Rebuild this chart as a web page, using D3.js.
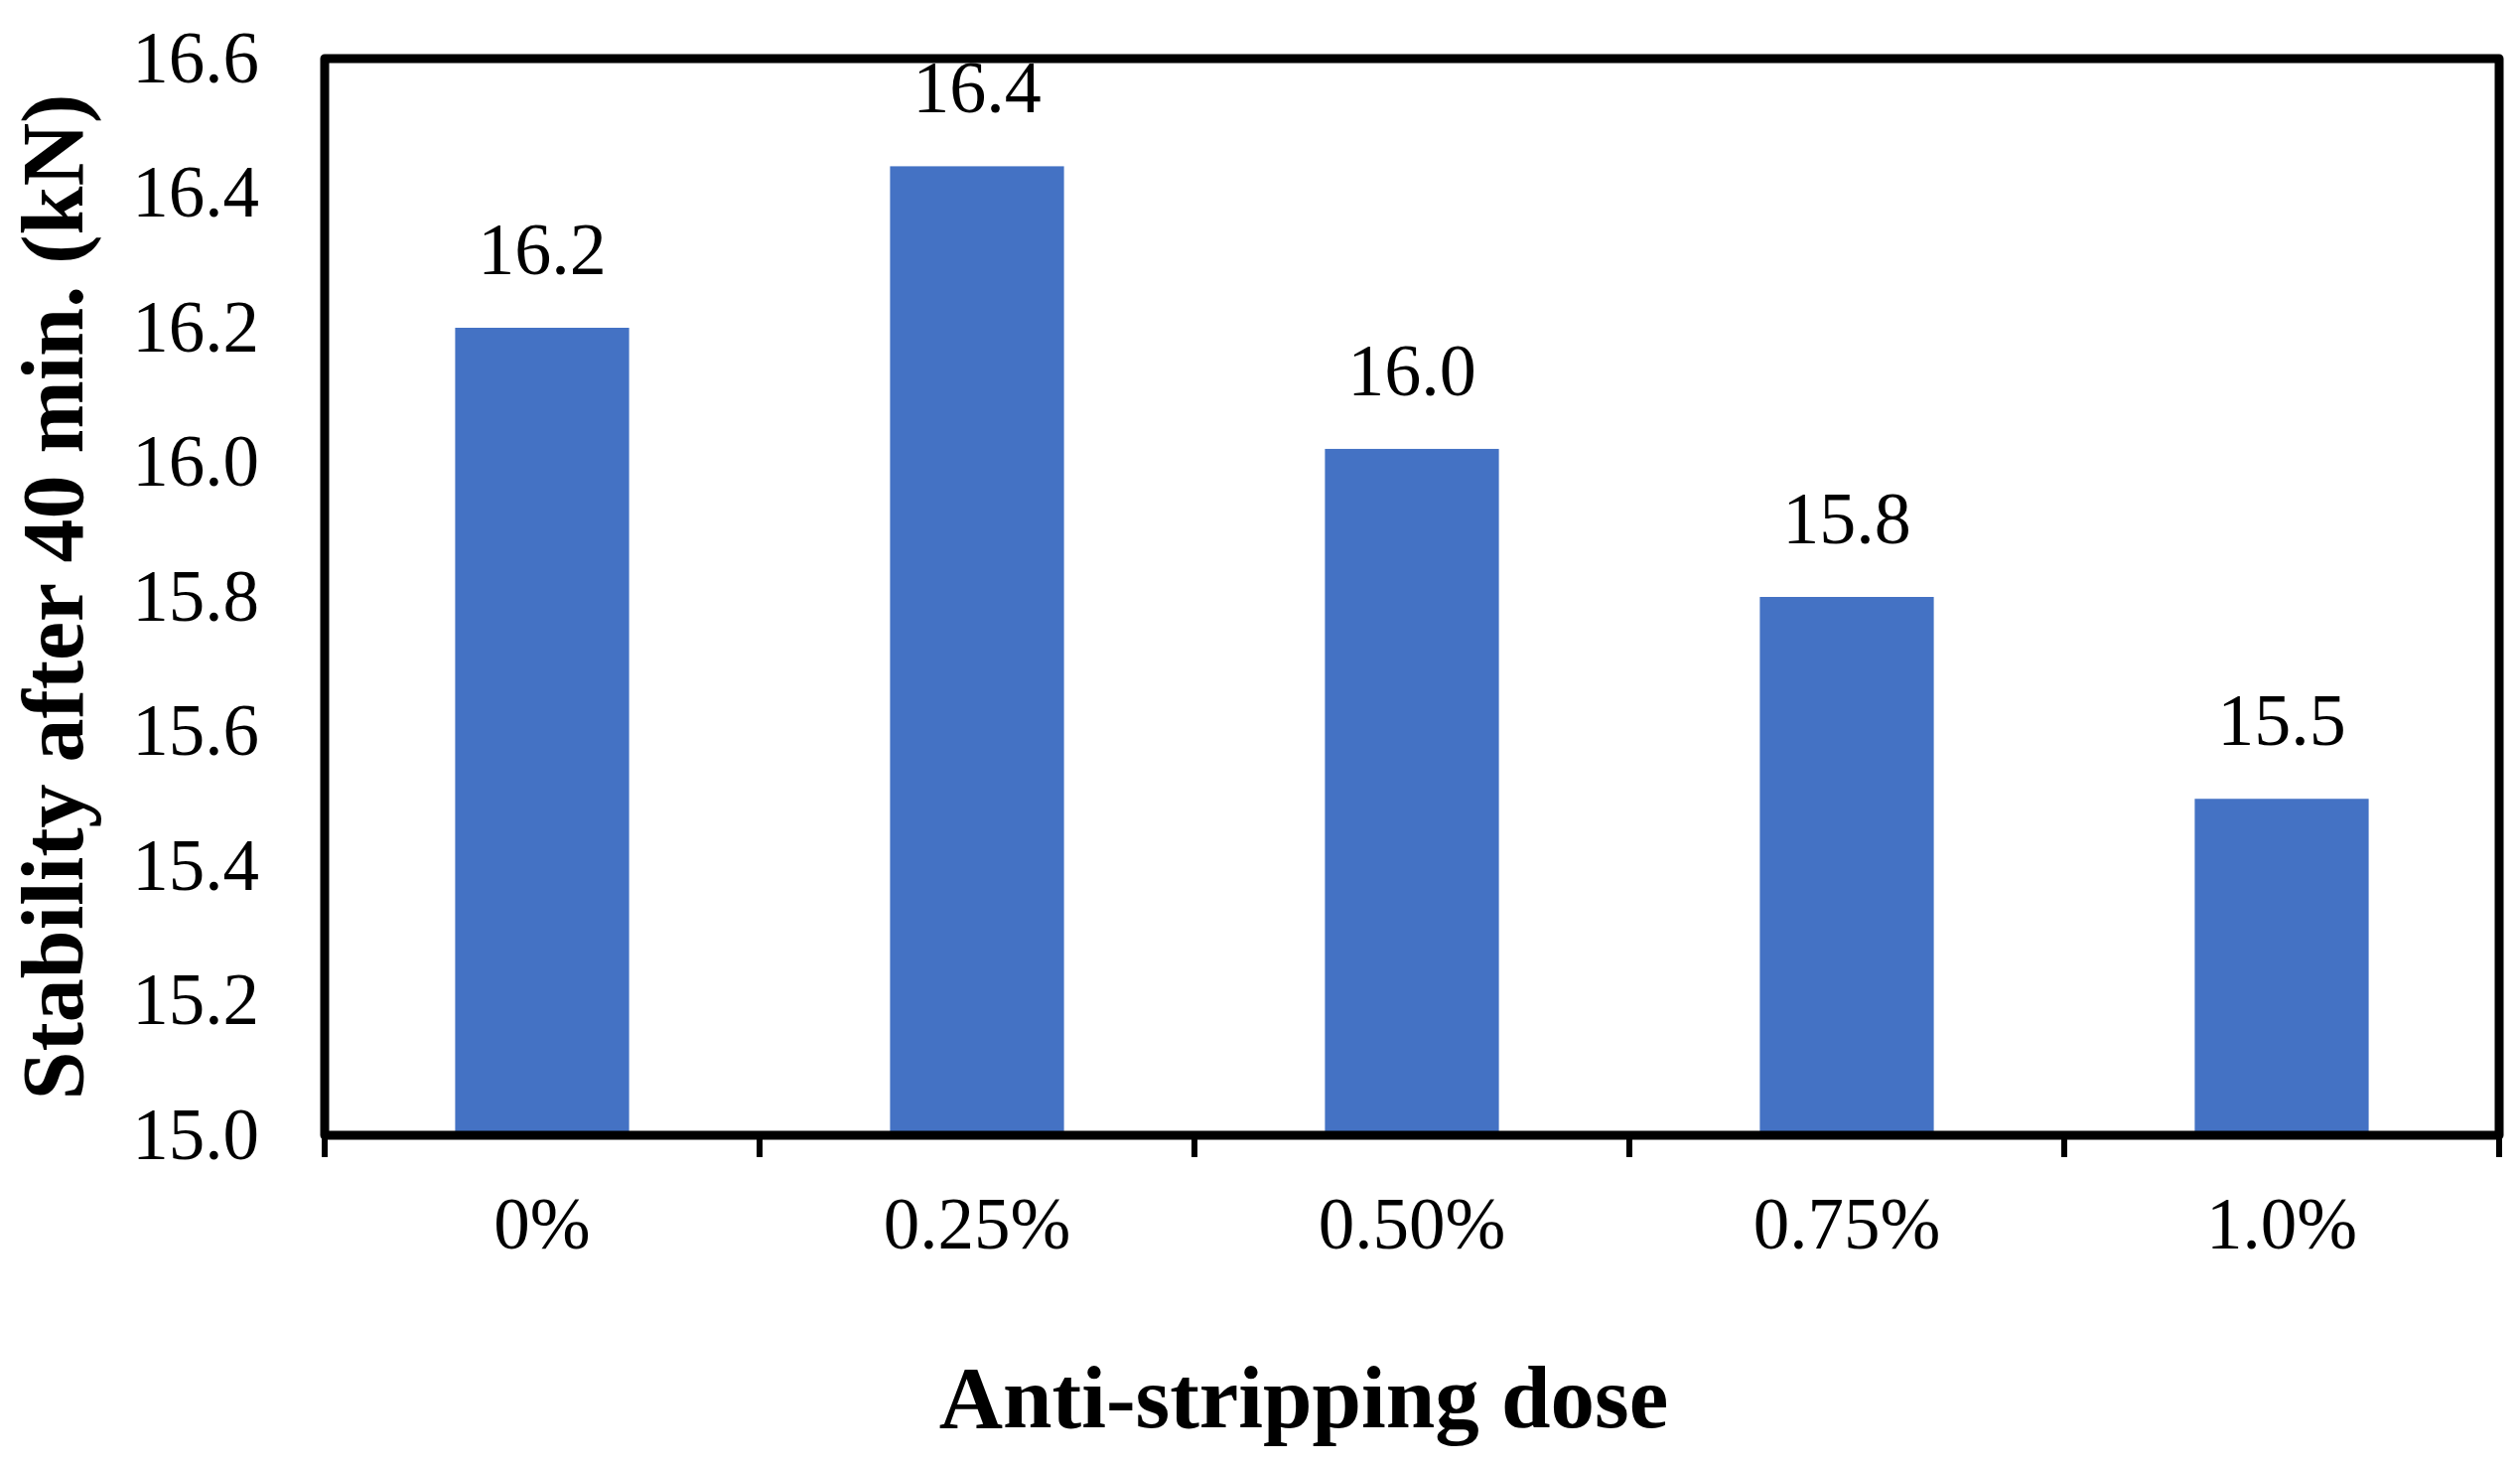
<!DOCTYPE html>
<html lang="en">
<head>
    <meta charset="UTF-8">
    <title>Stability after 40 min</title>
    <style>
        html,body {
            margin : 0px;
            padding: 0px;
            background: #fff;
        }
    </style>
    <script src="https://cdn.jsdelivr.net/npm/d3@7/dist/d3.min.js"></script>
</head>
<body>
<svg></svg>
<script>
    // values
    const doses     = ['0%', '0.25%', '0.50%', '0.75%', '1.0%']
    const stability = [16.20, 16.44, 16.02, 15.80, 15.50]
    const valueText = ['16.2', '16.4', '16.0', '15.8', '15.5']
    const yTicks    = [15.0, 15.2, 15.4, 15.6, 15.8, 16.0, 16.2, 16.4, 16.6]

    const _W = 2538
    const _H = 1479
    const m = {left: 327, right: 2517, top: 59, bottom: 1143}
    const serif = "'Liberation Serif', 'Times New Roman', serif"

    const svg = d3.select('svg')
        .attr('width', _W)
        .attr('height', _H)

    const x = d3.scaleBand()
        .domain(doses)
        .range([m.left, m.right])
        .paddingInner(0.6)
        .paddingOuter(0.3)

    const y = d3.scaleLinear()
        .domain([15.0, 16.6])
        .range([m.bottom, m.top])

    // bars
    svg.append('g').attr('class', 'bars')
        .selectAll('rect').data(stability)
        .enter().append('rect')
        .attr('x', (d, i) => x(doses[i]))
        .attr('width', x.bandwidth())
        .attr('y', d => y(d))
        .attr('height', d => y(15.0) - y(d))
        .attr('fill', '#4472C4')

    // value labels
    svg.append('g').attr('class', 'labels')
        .selectAll('text').data(stability)
        .enter().append('text')
        .attr('x', (d, i) => x(doses[i]) + x.bandwidth() / 2)
        .attr('y', d => y(d) - 54)
        .attr('text-anchor', 'middle')
        .style('font-family', serif)
        .style('font-size', '74px')
        .text((d, i) => valueText[i])

    // y axis (labels only, frame draws the line)
    const yAxis = svg.append('g')
        .attr('transform', `translate(${m.left},0)`)
        .call(d3.axisLeft(y).tickValues(yTicks).tickSize(0).tickPadding(66).tickFormat(d3.format('.1f')))
    yAxis.select('.domain').remove()
    yAxis.selectAll('text')
        .style('font-family', serif)
        .style('font-size', '73px')
        .attr('fill', '#000')

    // x axis labels
    const xAxis = svg.append('g')
        .attr('transform', `translate(0,${m.bottom})`)
        .call(d3.axisBottom(x).tickSize(0).tickPadding(62))
    xAxis.select('.domain').remove()
    xAxis.selectAll('text')
        .style('font-family', serif)
        .style('font-size', '73px')
        .attr('fill', '#000')

    // tick marks between categories
    const edges = d3.range(doses.length + 1).map(i => m.left + i * x.step())
    svg.append('g').attr('class', 'xticks')
        .selectAll('line').data(edges)
        .enter().append('line')
        .attr('x1', d => d).attr('x2', d => d)
        .attr('y1', m.bottom).attr('y2', m.bottom + 22)
        .attr('stroke', '#000')
        .attr('stroke-width', 6)

    // plot frame
    svg.append('rect')
        .attr('x', m.left).attr('y', m.top)
        .attr('width', m.right - m.left)
        .attr('height', m.bottom - m.top)
        .attr('fill', 'none')
        .attr('stroke', '#000')
        .attr('stroke-width', 9)
        .attr('stroke-linejoin', 'round')

    // axis titles
    svg.append('text')
        .attr('x', 1313)
        .attr('y', 1437)
        .attr('text-anchor', 'middle')
        .style('font-family', serif)
        .style('font-weight', 'bold')
        .style('font-size', '89px')
        .text('Anti-stripping dose')

    svg.append('text')
        .attr('transform', `translate(83,${(m.top + m.bottom) / 2}) rotate(-90)`)
        .attr('text-anchor', 'middle')
        .style('font-family', serif)
        .style('font-weight', 'bold')
        .style('font-size', '88px')
        .text('Stability after 40 min. (kN)')
</script>
</body>
</html>
